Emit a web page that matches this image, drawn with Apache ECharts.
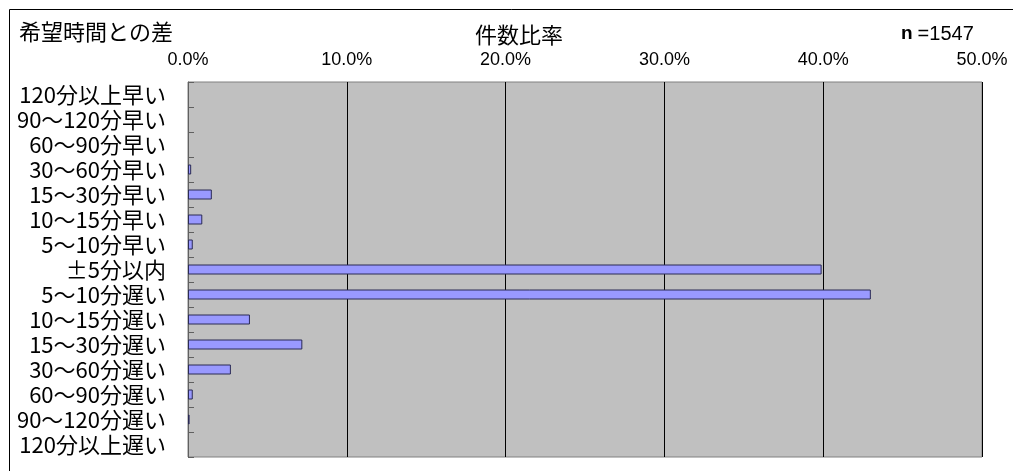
<!DOCTYPE html>
<html>
<head>
<meta charset="utf-8">
<script src="https://cdn.jsdelivr.net/npm/echarts@6/dist/echarts.min.js"></script>
<style>
  html, body { margin: 0; padding: 0; background: #fff; }
  #chart { width: 1013px; height: 471px; }
</style>
</head>
<body>
<div id="chart"></div>
<script>
// Difference from the requested time: share of cases (%), n = 1547
const categories = [
  '120分以上早い', '90～120分早い', '60～90分早い', '30～60分早い',
  '15～30分早い', '10～15分早い', '5～10分早い', '±5分以内',
  '5～10分遅い', '10～15分遅い', '15～30分遅い', '30～60分遅い',
  '60～90分遅い', '90～120分遅い', '120分以上遅い'
];
const shares = [0, 0, 0, 0.2, 1.5, 0.9, 0.3, 39.9, 43.0, 3.9, 7.2, 2.7, 0.3, 0.1, 0];
const axisTicks = [0, 10, 20, 30, 40, 50];
const sampleSize = 1547;

const cjk = '"Noto Sans CJK JP", "Noto Sans", sans-serif';
const latin = '"Liberation Sans", Arial, sans-serif';

// empty classes get no bar at all (avoids a hairline outline at zero)
const barData = shares.map(v => (v === 0 ? '-' : v));

const chart = echarts.init(document.getElementById('chart'));
chart.setOption({
  animation: false,
  backgroundColor: '#ffffff',
  title: [
    {
      text: '希望時間との差', left: 14, top: 16,
      textStyle: { fontFamily: cjk, fontSize: 22, fontWeight: 'normal', color: '#000' }
    },
    {
      text: '件数比率', left: 470, top: 19,
      textStyle: { fontFamily: cjk, fontSize: 22, fontWeight: 'normal', color: '#000' }
    },
    {
      text: '{b|n} {r|=' + sampleSize + '}', left: 896, top: 19,
      textStyle: {
        fontWeight: 'normal',
        rich: {
          b: { fontFamily: latin, fontSize: 19, fontWeight: 'bold', color: '#000' },
          r: { fontFamily: latin, fontSize: 20, fontWeight: 'normal', color: '#000' }
        }
      }
    }
  ],
  graphic: [{
    type: 'rect',
    shape: { x: 9.5, y: 9.5, width: 1010, height: 470 },
    style: { fill: 'none', stroke: '#000', lineWidth: 1 },
    silent: true
  }],
  grid: {
    left: 188, right: 31, top: 82, bottom: 14,
    show: true, backgroundColor: '#c0c0c0', borderColor: '#808080', borderWidth: 1,
    containLabel: false
  },
  xAxis: {
    type: 'value', position: 'top',
    min: axisTicks[0], max: axisTicks[axisTicks.length - 1], interval: 10,
    axisLine: { show: false },
    axisTick: { show: false },
    splitLine: { show: true, lineStyle: { color: '#000', width: 1 } },
    axisLabel: {
      margin: 13, color: '#000', fontFamily: latin, fontSize: 18,
      formatter: v => v.toFixed(1) + '%'
    }
  },
  yAxis: {
    type: 'category', data: categories, inverse: true,
    axisLine: { show: true, lineStyle: { color: '#606060', width: 1 } },
    axisTick: { show: true, inside: true, length: 6, lineStyle: { color: '#606060' } },
    axisLabel: { interval: 0, margin: 22, color: '#000', fontFamily: cjk, fontSize: 22 }
  },
  series: [{
    type: 'bar', data: barData, barWidth: 10,
    itemStyle: { color: '#9999ff', borderColor: '#2a2a55', borderWidth: 1 }
  }]
});
</script>
</body>
</html>
